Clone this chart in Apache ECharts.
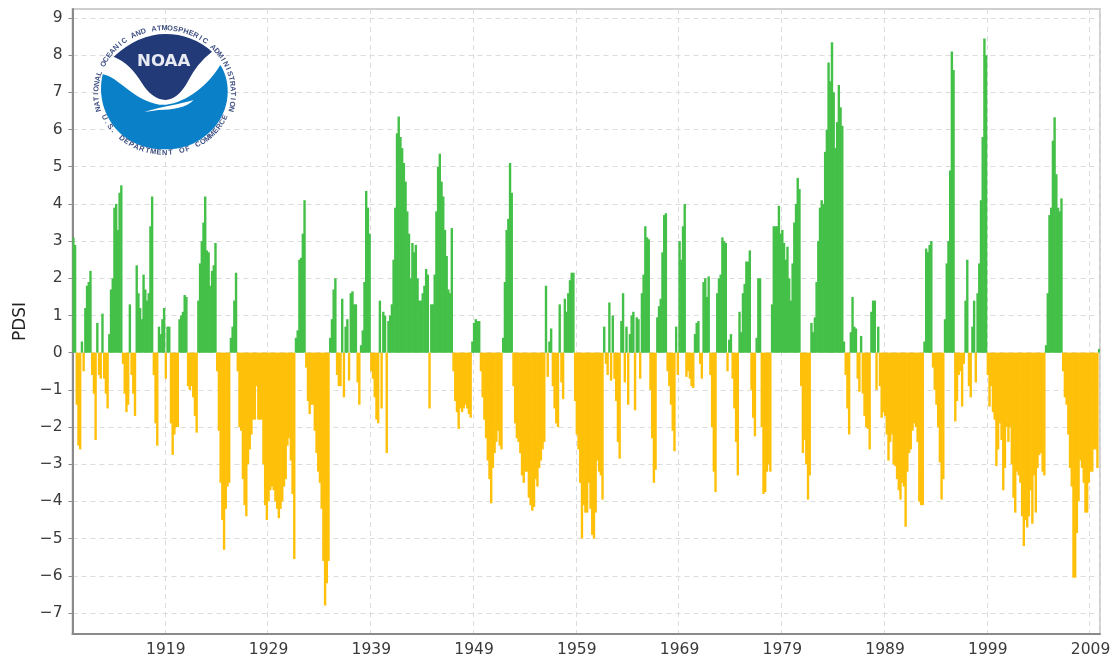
<!DOCTYPE html>
<html><head><meta charset="utf-8">
<style>html,body{margin:0;padding:0;background:#fff}#c{width:1110px;height:660px}</style>
<script src="https://cdn.jsdelivr.net/npm/echarts@6/dist/echarts.min.js"></script>
</head><body><div id="c"></div>
<script>
// Two-monthly PDSI values, one row per year
const pdsi1910s = [
 3.1,2.9,-1.4,-2.5,-2.6,0.3,
 -0.5,1.2,1.8,1.9,2.2,-0.6,
 -1.1,-2.35,0.8,-0.6,-0.7,1.05,
 -0.7,-1.1,-1.5,0.5,1.7,2.0,
 3.9,4.0,3.3,4.3,4.5,-0.3,
 -1.1,-1.6,-1.4,1.3,-0.6,-1.1,
 -1.7,2.35,1.6,1.2,0.9,2.1,
 1.7,1.4,1.6,3.4,4.2,-0.6,
 -1.9,-2.5,0.7,0.5,0.9,1.2,
 -0.7,0.7,0.7,-1.9,-2.75,-2.2];
const pdsi1920s = [
 -2.0,-2.0,0.9,1.0,1.1,1.55,
 1.5,-0.9,-1.0,-0.9,-1.2,-1.7,
 -2.15,1.4,2.4,3.0,3.5,4.2,
 2.75,2.7,1.8,2.2,2.35,2.95,
 -0.5,-2.1,-3.5,-4.5,-5.3,-4.2,
 -3.6,-3.5,0.4,0.7,1.4,2.15,
 -0.5,-2.0,-2.1,-3.4,-4.1,-4.4,
 -3.0,-2.6,-2.2,-1.8,-1.8,-0.9,
 -1.8,-1.8,-1.8,-3.0,-4.1,-4.5,
 -4.0,-3.7,-3.6,-3.7,-4.0,-4.2];
const pdsi1930s = [
 -4.45,-4.2,-4.0,-3.6,-3.4,-2.5,
 -2.3,-2.9,-3.8,-5.55,0.4,0.6,
 2.5,2.55,3.2,4.1,-0.4,-1.3,
 -1.65,-1.4,-1.4,-2.1,-2.7,-3.2,
 -3.5,-4.2,-5.6,-6.8,-6.2,-5.6,
 0.4,0.9,1.7,2.0,-0.6,-0.9,
 -0.9,1.45,-1.2,0.7,0.9,-0.75,
 1.6,1.65,1.3,1.3,-0.8,-1.4,
 0.2,0.6,1.9,4.35,3.9,3.2,
 -0.5,-0.7,-1.2,-1.8,-1.9,1.4];
const pdsi1940s = [
 -1.5,1.1,1.0,-2.7,0.85,1.0,
 1.3,2.5,3.9,5.9,6.35,5.8,
 5.5,5.1,4.6,3.8,3.2,2.0,
 2.95,2.7,2.9,2.0,1.4,1.4,
 1.6,1.8,2.25,2.1,-1.5,1.3,
 1.3,2.1,3.8,5.0,5.35,4.6,
 4.2,3.3,2.6,1.7,1.6,3.35,
 -0.5,-1.3,-1.6,-2.05,-1.5,-1.6,
 -1.5,-1.4,-1.5,-1.65,-1.75,0.3,
 0.8,0.9,0.85,0.85,-0.5,-1.2];
const pdsi1950s = [
 -1.8,-2.3,-2.9,-3.4,-4.05,-3.1,
 -2.7,-2.4,-2.1,-2.5,-2.6,0.4,
 1.9,3.3,3.6,5.1,4.3,-0.9,
 -1.9,-2.3,-2.4,-2.7,-3.3,-3.5,
 -3.2,-3.2,-3.9,-4.1,-4.25,-4.15,
 -3.4,-3.6,-3.1,-2.9,-2.6,-2.4,
 1.8,-0.65,0.3,0.65,-0.9,-1.5,
 -1.9,-2.0,1.3,-0.8,-1.25,1.45,
 1.1,1.6,1.95,2.15,2.15,-1.3,
 -2.2,-2.6,-3.5,-5.0,-4.1,-4.3];
const pdsi1960s = [
 -4.3,-3.5,-4.2,-4.9,-5.0,-4.3,
 -2.9,-3.2,-3.3,-3.95,0.7,-0.3,
 -0.6,1.35,-0.75,1.0,-0.7,-1.3,
 -2.4,-2.85,0.85,1.6,-0.8,0.7,
 -1.4,0.5,1.0,1.1,-1.55,0.95,
 0.9,-0.7,1.6,2.1,3.4,3.1,
 3.05,-1.0,-2.3,-3.5,-3.15,0.95,
 1.25,1.45,2.7,3.7,3.75,-0.5,
 -0.9,-1.4,-2.1,-2.65,0.7,-0.6,
 3.0,2.5,3.4,4.0,-0.65,-0.5];
const pdsi1970s = [
 -0.7,-0.9,-0.95,0.5,0.8,0.85,
 -0.3,-0.7,1.9,2.0,1.5,2.05,
 -0.6,-2.0,-3.2,-3.75,1.6,2.0,
 2.1,3.1,3.0,2.95,-0.5,0.35,
 0.5,-0.7,-1.5,-2.4,-3.3,1.1,
 0.55,1.6,1.85,2.45,2.45,2.75,
 -1.0,-1.75,-2.25,0.4,2.0,2.0,
 -2.0,-3.8,-3.75,-3.2,-3.0,-3.2,
 1.3,3.4,3.4,3.4,3.95,3.2,
 3.3,2.95,2.5,2.85,2.0,1.4];
const pdsi1980s = [
 2.4,3.5,4.0,4.7,4.4,-0.9,
 -2.7,-2.35,-3.0,-3.95,-3.3,0.8,
 0.55,0.95,1.9,3.0,3.9,4.1,
 4.0,5.4,6.0,7.8,7.3,8.35,
 7.0,5.5,6.2,7.2,6.6,6.1,
 0.3,-0.6,-1.5,-2.2,0.55,1.5,
 0.7,0.65,-0.7,-1.05,0.45,-1.1,
 -1.7,-2.0,-2.05,-2.6,1.1,1.4,
 1.4,-1.0,0.7,-0.9,-1.75,-1.6,
 -1.7,-2.2,-2.9,-2.4,-2.2,-3.0];
const pdsi1990s = [
 -3.05,-3.4,-3.7,-3.95,-3.5,-3.6,
 -4.68,-3.2,-2.7,-2.6,-2.1,-1.9,
 -2.0,-2.4,-4.0,-4.1,-4.1,0.3,
 2.8,2.7,2.9,3.0,-0.4,-1.0,
 -1.4,-2.0,-2.95,-3.95,-3.4,0.9,
 2.4,3.0,4.9,8.1,7.6,-1.85,
 -1.3,-0.6,-0.5,-1.45,-0.3,1.4,
 2.5,-0.9,-1.2,0.7,1.4,-0.8,
 1.6,2.4,4.1,5.8,8.45,8.0,
 -0.6,-1.45,-0.9,-1.6,-1.8,-3.05];
const pdsi2000s = [
 -2.6,-1.9,-2.35,-3.7,-3.1,-2.0,
 -2.4,-2.0,-3.0,-3.9,-4.3,-3.2,
 -3.3,-3.5,-4.4,-5.2,-4.5,-4.7,
 -4.4,-3.7,-4.6,-3.3,-4.3,-3.1,
 -2.75,-2.7,-3.2,-3.3,0.2,1.6,
 3.7,3.9,5.7,6.33,4.8,3.9,
 3.8,4.15,-0.5,-1.2,-1.4,-2.2,
 -3.1,-3.6,-6.05,-6.05,-4.85,-4.0,
 -2.9,-3.1,-3.5,-4.3,-4.3,-3.5,
 -3.2,-3.2,-2.6,-2.6,-3.1,0.1];
const startYear = 1910;
const stepsPerYear = 6;
const yTicks = [-7,-6,-5,-4,-3,-2,-1,0,1,2,3,4,5,6,7,8,9];
const xTickYears = [1919,1929,1939,1949,1959,1969,1979,1989,1999,2009];
const seriesName = 'PDSI';
const ringTop = 'NATIONAL OCEANIC AND ATMOSPHERIC ADMINISTRATION';
const ringBottom = 'U.S. DEPARTMENT OF COMMERCE';

const values = [].concat(pdsi1910s,pdsi1920s,pdsi1930s,pdsi1940s,pdsi1950s,pdsi1960s,pdsi1970s,pdsi1980s,pdsi1990s,pdsi2000s);
const categories = values.map((_, i) => i % stepsPerYear === 0 ? String(startYear + i / stepsPerYear) : '');
const isTick = (i) => i % stepsPerYear === 0 && xTickYears.includes(startYear + i / stepsPerYear);

echarts.graphic.registerShape('logoNavy', echarts.graphic.extendPath('M125 140 Q200 72 280 72 Q360 72 420 125 Q375 160 350 210 Q320 268 280 270 Q240 268 210 220 Q175 160 125 140 Z', {}));
echarts.graphic.registerShape('logoBlue', echarts.graphic.extendPath('M92 193 C140 200 180 270 262 284 C320 290 400 240 445 165 C478 215 478 300 420 360 C370 410 320 418 278 418 C190 418 120 370 95 290 C85 255 85 225 92 193 Z', {}));
echarts.graphic.registerShape('logoTail', echarts.graphic.extendPath('M218 305 C270 290 325 282 365 270 C345 292 300 300 260 300 C245 302 232 305 218 305 Z', {}));

function ring(text, from, to, bottom){
  const cx=278, cy=250, rx=bottom?198:205, ry=bottom?178:195, out=[], n=text.length;
  for(let i=0;i<n;i++){
    const deg = from + (to-from)*i/(n-1), t=deg*Math.PI/180;
    out.push({type:'text', x:cx+rx*Math.cos(t), y:cy+ry*Math.sin(t),
      rotation:-((bottom?deg-90:deg+90)*Math.PI/180),
      style:{text:text[i], fill:'#3f4f82', font:'bold 22px "Liberation Sans"', align:'center', verticalAlign:'middle'}});
  }
  return out;
}
const logoParts = [
  {type:'ellipse', shape:{cx:278,cy:245,rx:190,ry:172}, style:{fill:'#fff'}},
  {type:'logoNavy', style:{fill:'#233a78'}},
  {type:'logoBlue', style:{fill:'#0a80c8'}},
  {type:'logoTail', style:{fill:'#fff'}},
  {type:'text', x:275, y:155, style:{text:'NOAA', fill:'#e8ebf3', font:'bold 50px "DejaVu Sans"', align:'center', verticalAlign:'middle'}}
].concat(ring(ringTop,166,374,false), ring(ringBottom,156,24,true));
logoParts.forEach((p) => { p.z = 100; });
const logo = {type:'group', x:72, y:10, scaleX:1/3, scaleY:1/3, silent:true, children:logoParts};

const chart = echarts.init(document.getElementById('c'), null, {renderer:'canvas'});
const axisGrey = '#8a8a8a';
const gridLine = {show:true, lineStyle:{color:'#dcdcdc', type:[5,4], width:1}};
chart.setOption({
  animation:false,
  backgroundColor:'#fff',
  grid:{left:72.5, right:10, top:9, bottom:26, outerBoundsMode:'none', show:true, borderColor:'#cfcfcf', borderWidth:2, backgroundColor:'#fff'},
  xAxis:{type:'category', data:categories, boundaryGap:true,
    axisLine:{onZero:false, lineStyle:{color:axisGrey,width:2}},
    axisTick:{alignWithLabel:true, interval:(i)=>isTick(i), length:4, lineStyle:{color:axisGrey}},
    axisLabel:{interval:(i)=>isTick(i), color:'#3a3a3a', fontFamily:'DejaVu Sans', fontSize:15.5, margin:8, hideOverlap:false},
    splitLine:Object.assign({interval:(i)=>isTick(i)}, gridLine)},
  yAxis:{type:'value', min:-7.565, max:9.242, name:seriesName, nameLocation:'middle', nameGap:43,
    nameTextStyle:{color:'#222', fontFamily:'DejaVu Sans', fontSize:17},
    axisLine:{show:true, onZero:false, lineStyle:{color:axisGrey,width:2}},
    axisTick:{show:true, length:4, customValues:yTicks, lineStyle:{color:axisGrey}},
    axisLabel:{color:'#3a3a3a', fontFamily:'DejaVu Sans', fontSize:15.5, margin:10, customValues:yTicks, formatter:(v)=>String(v).replace('-','\u2212')},
    splitLine:gridLine},
  series:[{name:seriesName, type:'bar', data:values, barWidth:2.4,
    itemStyle:{color:(p)=>p.value>=0?'#44c048':'#ffc00a'}}],
  graphic:[logo]
});
</script></body></html>
